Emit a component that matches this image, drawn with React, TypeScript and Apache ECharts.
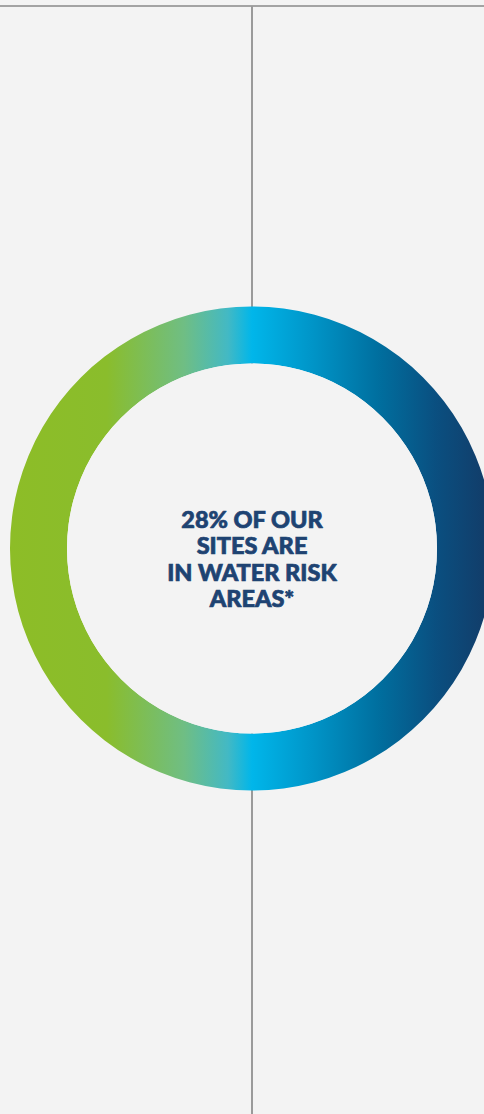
import React, { useEffect, useRef } from "react";
import * as echarts from "echarts";

const ringValues = [100];
const ringNames = ["Sites"];
const centerLines = ["28% OF OUR", "SITES ARE", "IN WATER RISK", "AREAS*"];
const gradientStops = [
  { offset: 0, color: "#8dbd27" },
  { offset: 0.2, color: "#8abd2c" },
  { offset: 0.36, color: "#6fbe84" },
  { offset: 0.45, color: "#43b9c4" },
  { offset: 0.5, color: "#00b6ea" },
  { offset: 0.62, color: "#0096c9" },
  { offset: 0.76, color: "#006f9f" },
  { offset: 0.88, color: "#0a4f80" },
  { offset: 1, color: "#133a66" },
];

const BG = "#f3f3f3";

export default function App() {
  const ref = useRef<HTMLDivElement>(null);
  useEffect(() => {
    if (!ref.current) return;
    const chart = echarts.init(ref.current, undefined, { renderer: "svg" });
    chart.setOption({
      animation: false,
      backgroundColor: BG,
      graphic: [
        {
          type: "line",
          z: 0,
          shape: { x1: 0, y1: 6, x2: 484, y2: 6 },
          style: { stroke: "#888888", lineWidth: 1.5 },
        },
        {
          type: "line",
          z: 0,
          shape: { x1: 252, y1: 6, x2: 252, y2: 1114 },
          style: { stroke: "#9a9a9a", lineWidth: 2 },
        },
        {
          type: "text",
          z: 100,
          x: 252,
          y: 506,
          style: {
            text: centerLines.join("\n"),
            fill: "#1e4372",
            stroke: "#1e4372",
            lineWidth: 0.7,
            font: "900 23.5px Lato, 'Noto Sans', sans-serif",
            lineHeight: 26.3,
            align: "center",
            verticalAlign: "top",
          },
        },
      ],
      series: [
        {
          type: "pie",
          z: 2,
          silent: true,
          center: [252, 548.5],
          radius: [185, 242],
          label: { show: false },
          labelLine: { show: false },
          data: ringValues.map((v, i) => ({
            value: v,
            name: ringNames[i],
            itemStyle: {
              color: new echarts.graphic.LinearGradient(0, 0, 1, 0, gradientStops),
            },
          })),
        },
        {
          type: "pie",
          z: 3,
          silent: true,
          center: [252, 548.5],
          radius: [0, 185],
          label: { show: false },
          labelLine: { show: false },
          data: ringValues.map((v, i) => ({
            value: v,
            name: ringNames[i] + " inner",
            itemStyle: { color: BG },
          })),
        },
      ],
    });
    return () => chart.dispose();
  }, []);
  return (
    <div
      ref={ref}
      style={{ position: "absolute", left: 0, top: 0, width: 484, height: 1114 }}
    />
  );
}
